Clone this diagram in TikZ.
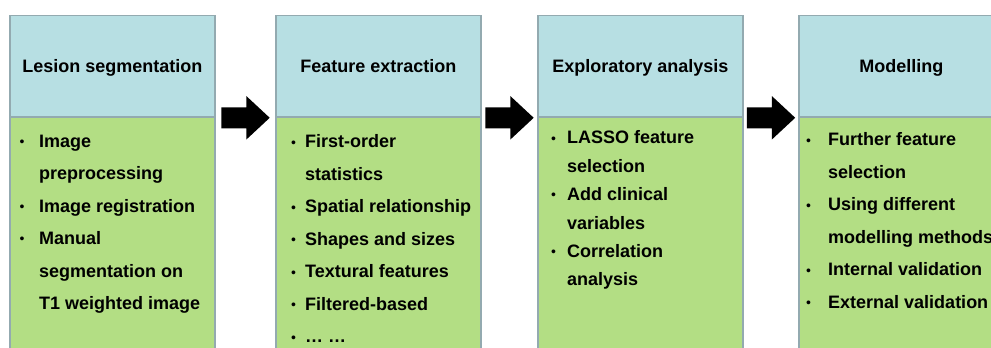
\documentclass[tikz,border=0pt]{standalone}
\usepackage{fontspec}
\setmainfont{Liberation Sans}
\usetikzlibrary{calc}
\definecolor{hdr}{HTML}{B7DFE3}
\definecolor{bdy}{HTML}{B3DE84}
\definecolor{edge}{HTML}{93AAB0}
\tikzset{
  hdrbox/.style={draw=edge, line width=1.8pt, fill=hdr, minimum width=205pt,
    minimum height=101.5pt, anchor=north west, inner sep=0pt,
    font=\bfseries\fontsize{18}{20}\selectfont, text height=13pt, text depth=0pt},
  bdybox/.style={draw=edge, line width=1.8pt, fill=bdy, minimum width=205pt,
    minimum height=245pt, anchor=north west, inner sep=0pt},
  bodytext/.style={font=\bfseries\fontsize{18}{32.5}\selectfont, align=left,
    anchor=north west, inner sep=0pt},
  bodytight/.style={bodytext, font=\bfseries\fontsize{18}{28.4}\selectfont},
}
\newcommand{\bul}[1]{\llap{\makebox[#1][l]{\raisebox{0.8pt}{\mdseries\fontsize{14}{14}\selectfont •}}}}
\newcommand{\blockarrow}[2]{%
  \fill[black] ($(#1)!0.5!(#2)$) ++(-24,10.5) -- ++(25,0) -- ++(0,11.2)
    -- ++(23.3,-21.7) -- ++(-23.3,-21.7) -- ++(0,11.2) -- ++(-25,0) -- cycle;}
\begin{document}
\begin{tikzpicture}[x=1pt,y=1pt]
\clip (0,0) rectangle (991,-348);
\fill[white] (0,0) rectangle (991,-348);
% column 1
\node[bdybox] (b1) at (9,-116.2) {};
\node[hdrbox] (h1) at (9,-14.5) {Lesion segmentation};
\node[bodytext] (t1) at ($(b1.north west)+(30,-18.5)$)
  {\bul{19.5pt}Image\\ preprocessing\\ \bul{19.5pt}Image registration\\
   \bul{19.5pt}Manual\\ segmentation on\\ T1 weighted image};
% column 2
\node[bdybox] (b2) at (275,-116.2) {};
\node[hdrbox] (h2) at (275,-14.5) {Feature extraction};
\node[bodytext] (t2) at ($(b2.north west)+(30,-18.5)$)
  {\bul{14pt}First-order\\ statistics\\ \bul{14pt}Spatial relationship\\
   \bul{14pt}Shapes and sizes\\ \bul{14pt}Textural features\\
   \bul{14pt}Filtered-based\\ \bul{14pt}… …};
% column 3
\node[bdybox] (b3) at (537,-116.2) {};
\node[hdrbox] (h3) at (537,-14.5) {Exploratory analysis};
\node[bodytight] (t3) at ($(b3.north west)+(30,-14.5)$)
  {\bul{16pt}LASSO feature\\ selection\\ \bul{16pt}Add clinical\\ variables\\
   \bul{16pt}Correlation\\ analysis};
% column 4
\node[bdybox] (b4) at (798,-116.2) {};
\node[hdrbox] (h4) at (798,-14.5) {Modelling};
\node[bodytext] (t4) at ($(b4.north west)+(30,-16.5)$)
  {\bul{22pt}Further feature\\ selection\\ \bul{22pt}Using different\\
   modelling methods\\ \bul{22pt}Internal validation\\ \bul{22pt}External validation};
% arrows
\blockarrow{h1.south east}{h2.south west}
\blockarrow{h2.south east}{h3.south west}
\blockarrow{h3.south east}{h4.south west}
\end{tikzpicture}
\end{document}
